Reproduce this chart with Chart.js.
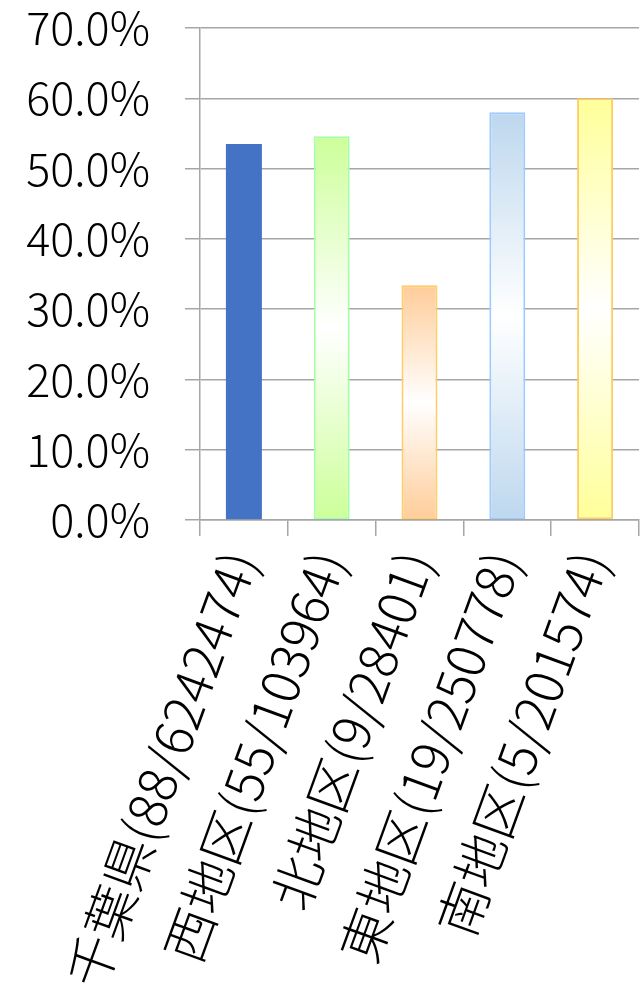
<!DOCTYPE html>
<html>
<head>
<meta charset="utf-8">
<script src="https://cdn.jsdelivr.net/npm/chart.js@4/dist/chart.umd.min.js"></script>
<style>
  html, body { margin: 0; padding: 0; background: #ffffff; }
  #wrap { width: 641px; height: 987px; position: relative; }
</style>
</head>
<body>
<div id="wrap"><canvas id="chart"></canvas></div>
<script>
// Area labels with (cases / population)
const categories = [
  '千葉県(88/6242474)',
  '西地区(55/103964)',
  '北地区(9/28401)',
  '東地区(19/250778)',
  '南地区(5/201574)'
];
// Rate per area, in percent
const rates = [53.5, 54.6, 33.4, 58.0, 60.0];
// Y axis tick values (percent)
const yTicks = [0, 10, 20, 30, 40, 50, 60, 70];

// Bar fills: first bar solid, the rest fade to white in the middle
const fillColors = ['#4472C4', '#CCFF99', '#FFCC99', '#BDD7EE', '#FFFF99'];
const edgeColors = ['#4472C4', '#A6FFA6', '#FFCC66', '#9DCBFF', '#FFCC66'];
const gradientBars = [false, true, true, true, true];

const FONT = '"Noto Sans CJK JP", "Noto Sans", sans-serif';
const GRID = '#A6A6A6';

function barFill(ctx) {
  const i = ctx.dataIndex;
  if (!gradientBars[i]) return fillColors[i];
  const chart = ctx.chart;
  const y = chart.scales && chart.scales.y;
  if (!y || !chart.chartArea) return fillColors[i];
  const top = y.getPixelForValue(rates[i]);
  const base = y.getPixelForValue(0);
  if (!isFinite(top) || !isFinite(base) || top === base) return fillColors[i];
  const g = chart.ctx.createLinearGradient(0, top, 0, base);
  g.addColorStop(0, fillColors[i]);
  g.addColorStop(0.5, '#FFFFFF');
  g.addColorStop(1, fillColors[i]);
  return g;
}

new Chart(document.getElementById('chart'), {
  type: 'bar',
  data: {
    labels: categories,
    datasets: [{
      data: rates,
      backgroundColor: barFill,
      borderColor: (ctx) => edgeColors[ctx.dataIndex],
      borderWidth: (ctx) => gradientBars[ctx.dataIndex] ? 2 : 0,
      borderSkipped: false,
      barPercentage: 0.41,
      categoryPercentage: 1.0
    }]
  },
  options: {
    responsive: true,
    maintainAspectRatio: false,
    animation: false,
    devicePixelRatio: 1,
    layout: { padding: { top: 28, right: 2, left: 0, bottom: 0 } },
    plugins: {
      legend: { display: false },
      tooltip: { enabled: false },
      title: { display: false }
    },
    scales: {
      x: {
        type: 'category',
        offset: true,
        border: { display: true, color: GRID, width: 1.5 },
        grid: {
          offset: true,
          drawOnChartArea: false,
          drawTicks: true,
          tickLength: 16,
          color: GRID,
          lineWidth: 1.5
        },
        ticks: {
          minRotation: 70,
          maxRotation: 70,
          autoSkip: false,
          padding: 7,
          labelOffset: -3,
          color: '#000000',
          font: { family: FONT, size: 52, weight: 300 }
        },
        afterFit: (scale) => {
          scale.height = 467;
          scale.paddingLeft = 0;
          scale.paddingRight = 0;
        }
      },
      y: {
        min: 0,
        max: 70,
        border: { display: true, color: GRID, width: 1.5 },
        grid: {
          drawTicks: true,
          tickLength: 15,
          color: GRID,
          lineWidth: 1.5
        },
        afterBuildTicks: (scale) => {
          scale.ticks = yTicks.map(v => ({ value: v }));
        },
        ticks: {
          padding: 35,
          color: '#000000',
          font: { family: FONT, size: 45, weight: 300 },
          callback: (v) => Number(v).toFixed(1) + '%'
        },
        afterFit: (scale) => {
          scale.width = 200;
          scale.paddingTop = 0;
          scale.paddingBottom = 0;
        }
      }
    }
  }
});
</script>
</body>
</html>
